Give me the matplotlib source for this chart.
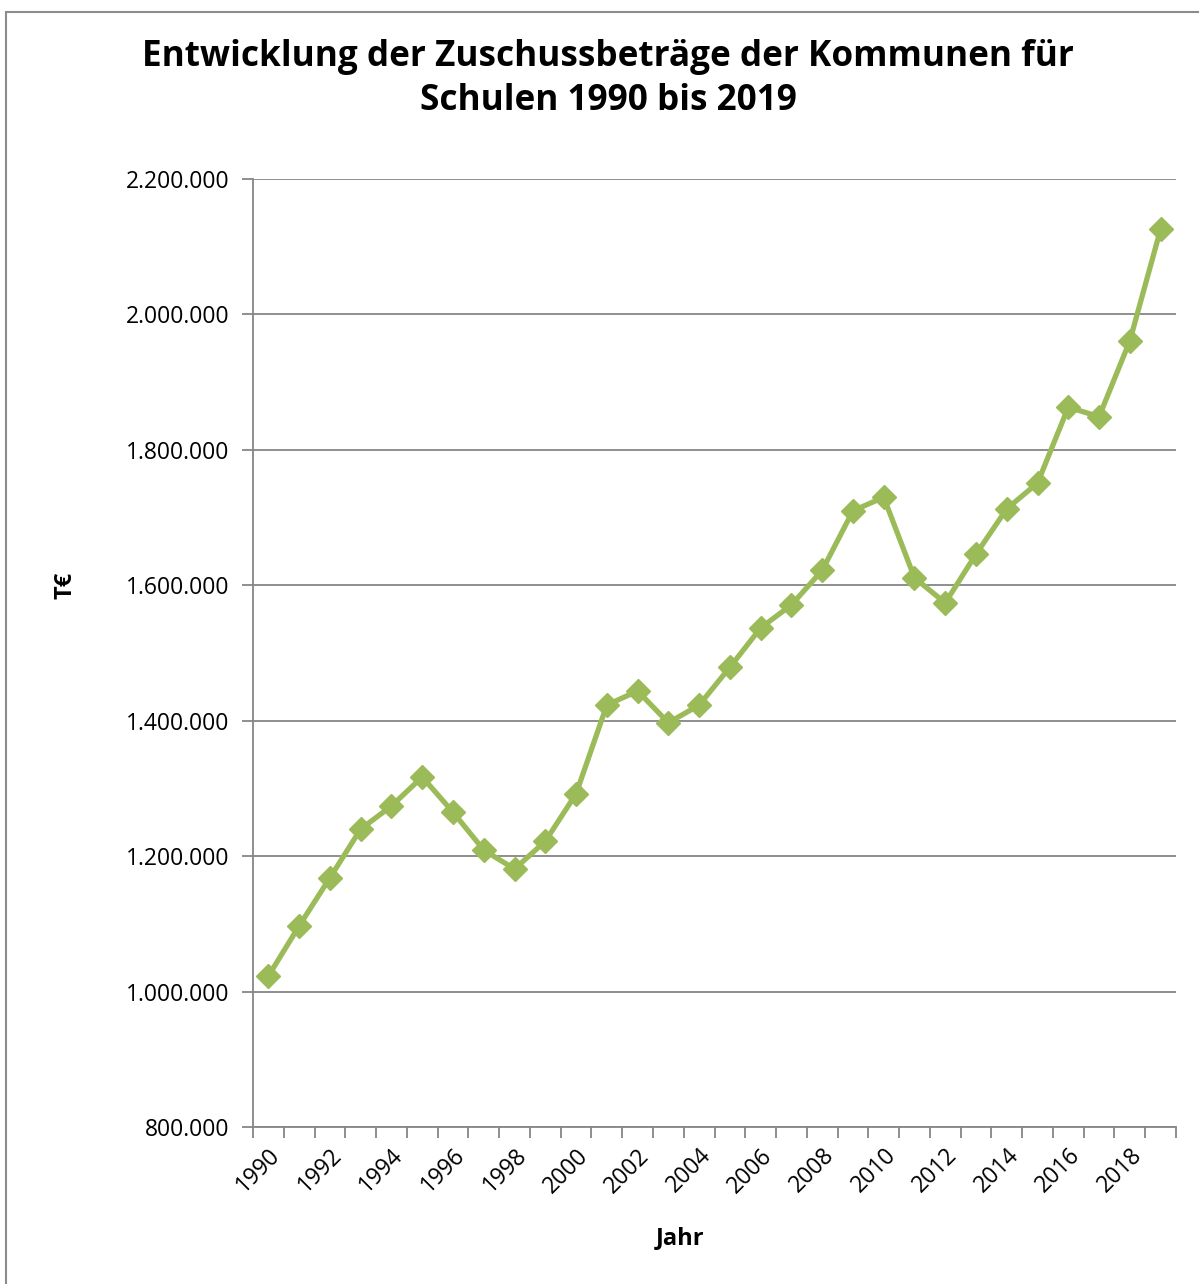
import matplotlib
matplotlib.use('Agg')

import numpy as np
import matplotlib.pyplot as plt
from matplotlib.patches import Rectangle
from matplotlib.ticker import FuncFormatter

# Daten (T€)
jahre = list(range(1990, 2020))
zuschuss = [1023000, 1097000, 1168000, 1240000, 1274000, 1317000, 1265000,
            1209000, 1181000, 1222000, 1292000, 1423000, 1444000, 1397000,
            1423000, 1479000, 1537000, 1571000, 1622000, 1710000, 1730000,
            1611000, 1574000, 1646000, 1713000, 1751000, 1863000, 1849000,
            1961000, 2126000]
y_ticks = [800000, 1000000, 1200000, 1400000, 1600000, 1800000, 2000000, 2200000]

plt.rcParams['font.family'] = ['Open Sans', 'DejaVu Sans']

W, H = 1199, 1284
fig = plt.figure(figsize=(W / 100, H / 100), dpi=100)

# Rahmen um das Diagramm
fig.patches.append(Rectangle((6 / W, -0.01), 1.02, 1 - 12 / H + 0.01,
                             transform=fig.transFigure, fill=False,
                             edgecolor='#8c8c8c', linewidth=1.5))

ax = fig.add_axes([253 / W, 1 - 1127 / H, (1176 - 253) / W, (1127 - 179) / H])

x = np.arange(len(jahre))
ax.plot(x, zuschuss, color='#9BBB59', linewidth=3.8, marker='D',
        markersize=12.5, markeredgecolor='#9BBB59', zorder=3)

ax.set_xlim(-0.5, len(jahre) - 0.5)
ax.set_ylim(800000, 2200000)

# Y-Achse
ax.set_yticks(y_ticks)
ax.yaxis.set_major_formatter(FuncFormatter(lambda v, p: f'{int(v):,}'.replace(',', '.')))
ax.grid(axis='y', color='#868686', linewidth=1.3)
ax.set_axisbelow(True)
ax.tick_params(axis='y', length=8, width=1.3, color='#868686', labelsize=16.5, pad=9)

# X-Achse: Striche zwischen den Kategorien, Beschriftung jedes zweite Jahr
ax.set_xticks(np.arange(-0.5, len(jahre), 1.0))
ax.set_xticklabels([])
ax.set_xticks(x[::2], minor=True)
ax.set_xticklabels([str(j) for j in jahre[::2]], minor=True, rotation=45,
                   ha='right', rotation_mode='anchor', fontsize=16.5)
ax.tick_params(axis='x', which='major', length=8, width=1.3, color='#868686')
ax.tick_params(axis='x', which='minor', length=0, pad=12)

for s in ['top', 'right']:
    ax.spines[s].set_visible(False)
for s in ['left', 'bottom']:
    ax.spines[s].set_color('#868686')
    ax.spines[s].set_linewidth(1.3)

fig.text(608 / W, 1 - 79 / H,
         'Entwicklung der Zuschussbeträge der Kommunen für\nSchulen 1990 bis 2019',
         ha='center', va='center', fontsize=25.3, fontweight='bold',
         linespacing=1.3)
fig.text(66 / W, 1 - 585 / H, 'T€', rotation=90, ha='center', va='center',
         fontsize=17, fontweight='bold')
fig.text(680 / W, 1 - 1238 / H, 'Jahr', ha='center', va='center',
         fontsize=17, fontweight='bold')

fig.savefig('out.png', dpi=100)
